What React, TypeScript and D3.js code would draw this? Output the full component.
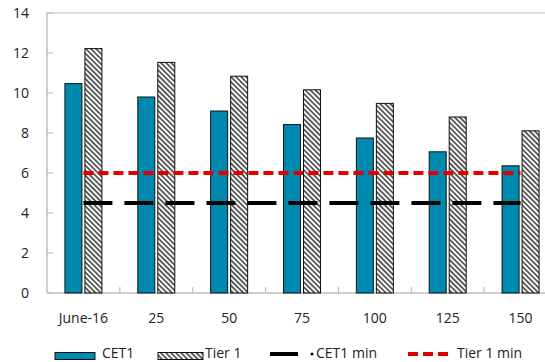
import React from "react";
import * as d3 from "d3";

const categories = ["June-16", "25", "50", "75", "100", "125", "150"];
const cet1 = [10.47, 9.8, 9.1, 8.42, 7.75, 7.06, 6.36];
const tier1 = [12.22, 11.53, 10.84, 10.16, 9.48, 8.8, 8.11];
const cet1Min = 4.5;
const tier1Min = 6;
const yTicks = [0, 2, 4, 6, 8, 10, 12, 14];

const W = 545;
const H = 362;
const FONT = "'Open Sans', 'Noto Sans', sans-serif";
const BLUE = "#0089AE";

export default function App() {
  const y = d3.scaleLinear().domain([0, 14]).range([293, 13]);
  const x = d3.scaleBand().domain(categories).range([47, 557]).paddingInner(0).paddingOuter(0);
  const step = x.step();
  const barW = 17;
  const gapHalf = 1.5;
  const first = x(categories[0])! + step / 2;
  const last = x(categories[categories.length - 1])! + step / 2;

  return (
    <svg width={W} height={H} style={{ position: "absolute", left: 0, top: 0, background: "#fff" }}>
      <defs>
        <pattern id="hatch" patternUnits="userSpaceOnUse" width={3.6} height={3.6} patternTransform="rotate(-45)">
          <rect width={3.6} height={3.6} fill="#fff" />
          <line x1={1} y1={0} x2={1} y2={3.6} stroke="#4a4a4a" strokeWidth={1.7} />
        </pattern>
      </defs>
      {/* plot frame */}
      <line x1={47} x2={W} y1={y(14)} y2={y(14)} stroke="#bfbfbf" strokeWidth={1.2} />
      <line x1={47} x2={47} y1={y(14)} y2={y(0)} stroke="#bfbfbf" strokeWidth={1.5} />
      <line x1={47} x2={W} y1={y(0)} y2={y(0)} stroke="#bfbfbf" strokeWidth={1.5} />
      {yTicks.map((t) => (
        <g key={t}>
          <line x1={47} x2={53} y1={y(t)} y2={y(t)} stroke="#bfbfbf" strokeWidth={1.2} />
          <text x={29} y={y(t)} dy="0.35em" textAnchor="end" fontFamily={FONT} fontSize={14} fill="#222">
            {t}
          </text>
        </g>
      ))}
      {categories.map((c, i) => {
        const x0 = x(c)!;
        const cx = x0 + step / 2;
        return (
          <g key={c}>
            {i > 0 && <line x1={x0} x2={x0} y1={y(0) - 6} y2={y(0)} stroke="#bfbfbf" strokeWidth={1.2} />}
            <rect x={cx - gapHalf - barW} y={y(cet1[i])} width={barW} height={y(0) - y(cet1[i])} fill={BLUE} stroke="#111" strokeWidth={1} />
            <rect x={cx + gapHalf} y={y(tier1[i])} width={barW} height={y(0) - y(tier1[i])} fill="url(#hatch)" stroke="#111" strokeWidth={1} />
            <text x={cx} y={323} textAnchor="middle" fontFamily={FONT} fontSize={14} fill="#222">
              {c}
            </text>
          </g>
        );
      })}
      {/* minimum lines */}
      <line x1={first} x2={last} y1={y(cet1Min)} y2={y(cet1Min)} stroke="#000" strokeWidth={4} strokeDasharray="29 12" />
      <line x1={first} x2={last} y1={y(tier1Min)} y2={y(tier1Min)} stroke="#e00000" strokeWidth={4} strokeDasharray="10 5" />
      {/* legend */}
      <g fontFamily={FONT} fontSize={14} fill="#222">
        <rect x={55} y={352.5} width={40} height={7} fill={BLUE} stroke="#111" strokeWidth={1} />
        <text x={102} y={357.5}>CET1</text>
        <rect x={158} y={352.5} width={45} height={7} fill="url(#hatch)" stroke="#111" strokeWidth={1} />
        <text x={205} y={357.5}>Tier 1</text>
        <line x1={270} x2={298} y1={354} y2={354} stroke="#000" strokeWidth={4} />
        <circle cx={312} cy={354} r={1.5} fill="#000" />
        <text x={316} y={357.5}>CET1 min</text>
        <line x1={408} x2={448} y1={354} y2={354} stroke="#e00000" strokeWidth={4} strokeDasharray="10 5" />
        <text x={457} y={357.5}>Tier 1 min</text>
      </g>
    </svg>
  );
}
